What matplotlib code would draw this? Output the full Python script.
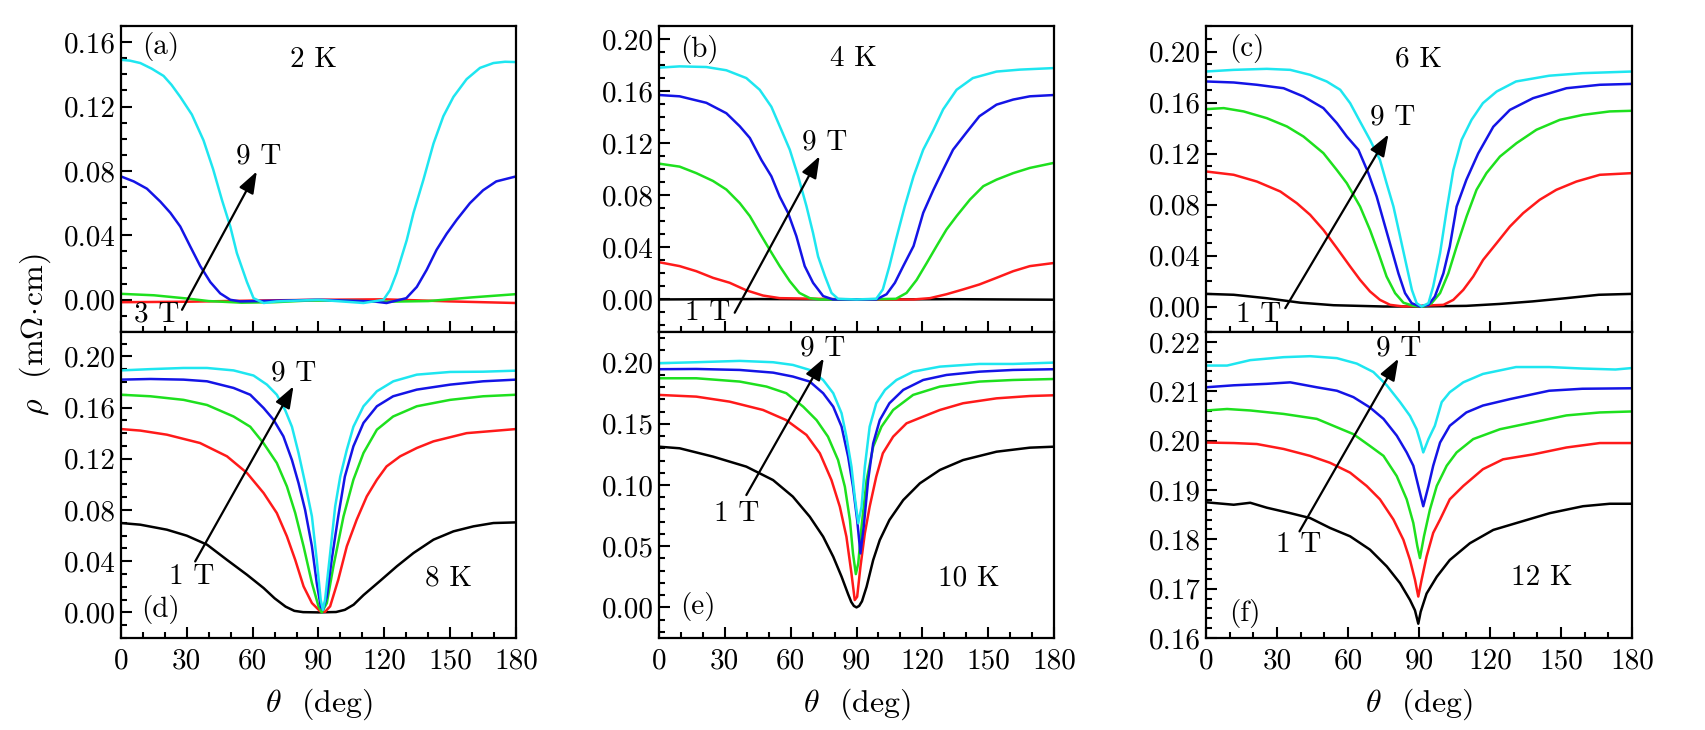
import matplotlib
matplotlib.use("Agg")
import matplotlib.pyplot as plt
from matplotlib.ticker import MultipleLocator, FixedLocator, FixedFormatter

plt.rcParams['font.family'] = ['cmr10', 'DejaVu Serif']
plt.rcParams['mathtext.fontset'] = 'cm'
plt.rcParams['axes.unicode_minus'] = False

# ---------------- data (theta in deg, rho in mOhm cm) ----------------
# panel (a) 2 K
A9_t = [0, 4, 8.8, 14, 19.4, 23, 27, 32.3, 37.6, 42, 46, 49.8, 52.8, 57.4, 60.4, 65, 71, 90, 110.5, 119.6, 122.6, 125.6, 130.2, 133.3, 137.8, 142.4, 146.9, 151.5, 157.5, 163.6, 169.7, 175, 180]
A9_r = [0.149, 0.1485, 0.147, 0.1435, 0.139, 0.1335, 0.126, 0.115, 0.099, 0.081, 0.062, 0.0455, 0.029, 0.011, 0.001, -0.002, -0.001, 0.0, -0.002, 0.0, 0.006, 0.0166, 0.037, 0.054, 0.0745, 0.097, 0.114, 0.126, 0.137, 0.144, 0.147, 0.1478, 0.1476]
A7_t = [0, 5.8, 11.8, 17.9, 22.5, 27, 31.6, 36.1, 40.7, 45.2, 49.8, 54.3, 90, 115, 121, 130, 134.8, 139.3, 143.8, 148.4, 153, 159, 165, 171, 180]
A7_r = [0.0766, 0.0735, 0.069, 0.061, 0.054, 0.0455, 0.033, 0.021, 0.011, 0.004, 0.0, -0.001, 0.0, -0.001, -0.002, 0.001, 0.008, 0.0186, 0.031, 0.041, 0.0497, 0.060, 0.068, 0.0735, 0.0766]
A5_t = [0, 15, 30, 40, 55, 70, 85, 100, 120, 140, 160, 180]
A5_r = [0.0037, 0.0028, 0.0008, -0.0008, -0.0018, -0.0015, -0.0005, -0.0005, -0.0012, -0.0008, 0.0015, 0.0035]
A3_t = [0, 30, 60, 90, 120, 150, 180]
A3_r = [-0.0015, -0.0012, -0.0005, 0.0, 0.0003, -0.001, -0.002]

# panel (b) 4 K
B9_t = [0, 9.4, 21.6, 30.7, 39.8, 45.9, 51.2, 55.8, 59.6, 63.4, 67.2, 70.2, 72.5, 75.6, 78.6, 81.6, 90, 99, 102, 105, 108, 112, 116, 120.4, 125, 129.5, 135.6, 143, 153.8, 164.4, 180]
B9_r = [0.178, 0.179, 0.1785, 0.176, 0.170, 0.161, 0.148, 0.130, 0.115, 0.0946, 0.0716, 0.051, 0.033, 0.018, 0.005, 0.0005, 0.0, 0.0005, 0.0077, 0.0256, 0.046, 0.0716, 0.0946, 0.115, 0.130, 0.146, 0.161, 0.170, 0.175, 0.1765, 0.1777]
B7_t = [0, 9.4, 21.6, 30.7, 36.8, 41.4, 46.7, 51.2, 55, 58.8, 62.6, 66.4, 70.2, 74.8, 79.3, 90, 99, 103.7, 107.5, 111.3, 116, 120.4, 125, 129.5, 134, 140, 146, 153.8, 161.4, 169, 180]
B7_r = [0.157, 0.156, 0.151, 0.143, 0.133, 0.124, 0.107, 0.0946, 0.079, 0.0665, 0.0486, 0.0256, 0.0128, 0.0026, 0.0, 0.0, 0.0, 0.004, 0.0128, 0.0256, 0.041, 0.0665, 0.084, 0.0997, 0.115, 0.128, 0.1407, 0.1496, 0.1535, 0.156, 0.157]
B5_t = [0, 9.4, 17, 24.6, 30.7, 36.8, 41.4, 45.9, 50.5, 55, 59.6, 64, 68.7, 73.3, 90, 108, 112.8, 117.4, 122, 126.5, 131, 135.6, 141.7, 147.8, 153.8, 161.4, 169, 180]
B5_r = [0.1043, 0.102, 0.097, 0.091, 0.0844, 0.074, 0.064, 0.051, 0.038, 0.0256, 0.014, 0.005, 0.001, 0.0, 0.0, 0.0005, 0.005, 0.015, 0.028, 0.041, 0.0537, 0.064, 0.0767, 0.087, 0.092, 0.097, 0.101, 0.1049]
B3_t = [0, 9.4, 17, 24.6, 32.2, 39.8, 47.4, 55, 90, 116, 123.5, 131, 138.6, 146, 153.8, 161.4, 169, 180]
B3_r = [0.0286, 0.0256, 0.0217, 0.0166, 0.0128, 0.007, 0.003, 0.001, 0.0, 0.0, 0.001, 0.004, 0.0077, 0.0115, 0.0166, 0.0217, 0.0256, 0.028]
B1_t = [0, 45, 90, 135, 180]
B1_r = [0.0, 0.0003, 0.0, 0.0002, -0.0002]

# panel (c) 6 K
C9_t = [0, 11.7, 25.7, 35.6, 44, 51, 56.7, 60.9, 65.1, 69.3, 73.5, 76.3, 79.2, 82, 84.8, 87, 89, 91.1, 94, 96, 98.9, 101.7, 104.5, 108, 112.2, 117, 122.8, 131, 145, 159, 180]
C9_r = [0.1843, 0.1856, 0.1864, 0.1856, 0.1817, 0.1765, 0.170, 0.1595, 0.145, 0.1307, 0.115, 0.0967, 0.0784, 0.055, 0.0314, 0.013, 0.0026, 0.0, 0.0026, 0.0157, 0.0418, 0.0758, 0.107, 0.1307, 0.1464, 0.1595, 0.1686, 0.1765, 0.181, 0.183, 0.1843]
C7_t = [0, 11.7, 21.5, 32.8, 41.2, 49.6, 55.3, 59.5, 64.4, 68.6, 72.1, 75.7, 78.5, 81.3, 84.1, 86.9, 90.4, 94, 96.7, 100.3, 103, 105.9, 110, 115, 121.4, 128.4, 138.2, 152.3, 166.4, 180]
C7_r = [0.1765, 0.1757, 0.1739, 0.1712, 0.1647, 0.1556, 0.1438, 0.1333, 0.1229, 0.1046, 0.0863, 0.0627, 0.0444, 0.026, 0.0105, 0.0026, 0.0, 0.0013, 0.0078, 0.026, 0.047, 0.0784, 0.0993, 0.120, 0.141, 0.1542, 0.1634, 0.1712, 0.1739, 0.1746]
C5_t = [0, 7.5, 15.9, 25.7, 34.2, 41.2, 49.6, 55.3, 59.5, 65.1, 69.3, 72.9, 76.3, 79.9, 83.4, 87.6, 91.8, 95.3, 98.9, 102.4, 105.9, 110.1, 114.3, 118.5, 124.2, 131.2, 139.6, 149.5, 159.3, 170.6, 180]
C5_r = [0.1548, 0.1556, 0.153, 0.1477, 0.1412, 0.1333, 0.1203, 0.107, 0.0967, 0.0784, 0.060, 0.0418, 0.0235, 0.0105, 0.003, 0.0005, 0.0, 0.0026, 0.0105, 0.026, 0.047, 0.0706, 0.0915, 0.1046, 0.1176, 0.1281, 0.1386, 0.1464, 0.1503, 0.153, 0.1535]
C3_t = [0, 11.7, 21.5, 31.4, 38.4, 44, 49.6, 55.3, 60.9, 65.1, 69.3, 73.5, 77.8, 83.4, 100.3, 104.5, 108.7, 112.9, 117.1, 122.8, 128.4, 134, 141, 148, 156.5, 166.4, 180]
C3_r = [0.1059, 0.1033, 0.098, 0.0902, 0.081, 0.0719, 0.0601, 0.0458, 0.0314, 0.0209, 0.0118, 0.0052, 0.0013, 0.0, 0.0013, 0.0052, 0.013, 0.0235, 0.0366, 0.0497, 0.0627, 0.0732, 0.0837, 0.0915, 0.098, 0.1033, 0.1046]
C1_t = [0, 11.7, 25.7, 39.8, 53.9, 75, 89, 110, 124, 138, 152, 166, 180]
C1_r = [0.0099, 0.0092, 0.0065, 0.003, 0.001, 0.0, 0.0, 0.0005, 0.002, 0.004, 0.0065, 0.0092, 0.0099]

# panel (d) 8 K
D9_t = [0, 13.4, 28.5, 39.2, 51.3, 60.4, 66.5, 71, 74.8, 77.9, 80.9, 83.9, 87, 89.2, 91, 92, 93, 95.3, 97.6, 99.9, 102.9, 105.9, 110.5, 116.6, 124.1, 134.8, 150, 165, 180]
D9_r = [0.189, 0.190, 0.1909, 0.1909, 0.189, 0.185, 0.1779, 0.170, 0.158, 0.145, 0.1245, 0.101, 0.075, 0.041, 0.0099, 0.002, 0.0099, 0.046, 0.0828, 0.106, 0.127, 0.145, 0.161, 0.1727, 0.1805, 0.1857, 0.1878, 0.188, 0.1888]
D7_t = [0, 13.4, 28.5, 39.2, 51.3, 58.9, 65, 69.5, 74, 77.9, 80.9, 83.9, 87, 89.2, 91, 92, 93.8, 96, 99, 102, 105.9, 110.5, 116.6, 124, 134.8, 150, 165, 180]
D7_r = [0.1818, 0.1823, 0.1818, 0.1805, 0.1753, 0.170, 0.1596, 0.1505, 0.1375, 0.119, 0.101, 0.080, 0.0516, 0.023, 0.0047, 0.002, 0.0125, 0.041, 0.075, 0.106, 0.1297, 0.148, 0.161, 0.1688, 0.174, 0.1779, 0.1805, 0.1818]
D5_t = [0, 13.4, 28.5, 39.2, 51.3, 58.9, 65, 71, 75.6, 79.4, 83.2, 87, 90, 91.5, 93.8, 96.8, 101.4, 105.9, 110.5, 116.6, 124, 134.8, 150, 165, 180]
D5_r = [0.170, 0.1688, 0.166, 0.162, 0.153, 0.145, 0.132, 0.1167, 0.0984, 0.0776, 0.0516, 0.023, 0.0047, 0.0, 0.0073, 0.036, 0.075, 0.1036, 0.1245, 0.1427, 0.153, 0.161, 0.166, 0.1688, 0.170]
D3_t = [0, 8.8, 20.9, 36, 48.3, 57.4, 65, 71, 75.6, 79.4, 83.2, 87, 90.8, 93, 95.3, 99, 102.9, 107.4, 112, 116.6, 121, 127.2, 134.8, 142.4, 157.5, 180]
D3_r = [0.1432, 0.142, 0.1388, 0.1323, 0.1219, 0.1089, 0.0932, 0.0776, 0.0594, 0.041, 0.0203, 0.0073, 0.0008, 0.0005, 0.0047, 0.0255, 0.0516, 0.0724, 0.0906, 0.1036, 0.114, 0.1219, 0.1284, 0.1336, 0.140, 0.1432]
D1_t = [0, 8.8, 20.9, 30, 39.2, 48.3, 57.4, 65, 70, 75, 79, 83, 90, 98, 102, 106, 110.5, 118, 125.7, 133.3, 142.4, 151.5, 160.6, 169.7, 180]
D1_r = [0.0698, 0.0685, 0.0646, 0.0599, 0.0529, 0.041, 0.0294, 0.019, 0.011, 0.0045, 0.0012, 0.0002, 0.0, 0.0003, 0.002, 0.006, 0.0135, 0.0245, 0.036, 0.0464, 0.0568, 0.0633, 0.0672, 0.0698, 0.0703]

# panel (e) 10 K
E9_t = [0, 17, 36.8, 52, 61, 68.7, 74.8, 79.4, 83.2, 85.4, 87.7, 89.2, 90.8, 92.3, 93.8, 96, 99, 103, 108.2, 115.8, 128, 146, 161.4, 180]
E9_r = [0.1995, 0.2003, 0.2014, 0.2003, 0.1981, 0.194, 0.1858, 0.175, 0.1586, 0.1395, 0.115, 0.0905, 0.0687, 0.0823, 0.115, 0.1477, 0.1668, 0.1777, 0.1858, 0.1926, 0.1967, 0.1989, 0.1989, 0.2]
E7_t = [0, 17, 36.8, 52, 61, 68.7, 74.8, 79.4, 83.2, 86.2, 88.4, 90.3, 91.8, 93.3, 95.3, 97.6, 100.6, 105, 111.3, 120.4, 131, 146, 161.4, 180]
E7_r = [0.1946, 0.1948, 0.194, 0.1918, 0.1886, 0.1845, 0.175, 0.164, 0.1477, 0.123, 0.0986, 0.0714, 0.0441, 0.066, 0.104, 0.134, 0.153, 0.1668, 0.1777, 0.1858, 0.1899, 0.1926, 0.194, 0.1946]
E5_t = [0, 17, 36.8, 49, 58, 65.7, 71.8, 77, 81.6, 84.7, 87, 88.4, 89.7, 90.8, 92.3, 94.6, 97.6, 101.4, 106.7, 115.8, 128, 146, 161.4, 180]
E5_r = [0.1872, 0.1872, 0.1845, 0.1804, 0.175, 0.164, 0.153, 0.1395, 0.1204, 0.0986, 0.0714, 0.0441, 0.0272, 0.036, 0.066, 0.104, 0.1313, 0.1477, 0.1613, 0.1736, 0.1804, 0.1845, 0.1858, 0.1866]
E3_t = [0, 17, 32.2, 47.4, 58, 67.2, 73.3, 78.6, 82.4, 85.4, 87.7, 89.2, 90.3, 91.8, 93.8, 96, 99, 102, 106.7, 112.8, 120.4, 128, 138.6, 153.8, 169, 180]
E3_r = [0.1736, 0.1722, 0.1681, 0.1613, 0.153, 0.1409, 0.1259, 0.104, 0.0823, 0.0578, 0.0278, 0.006, 0.0087, 0.0332, 0.0605, 0.0823, 0.1068, 0.1259, 0.1395, 0.1504, 0.1559, 0.1613, 0.1668, 0.1708, 0.1727, 0.1733]
E1_t = [0, 9.4, 24.6, 39.8, 52, 61, 68.7, 74.8, 79.4, 83.2, 86.2, 87.6, 88.8, 90, 91.2, 92.5, 94.6, 97.6, 100.6, 105, 111.3, 118.9, 128, 138.6, 153.8, 169, 180]
E1_r = [0.1313, 0.13, 0.1232, 0.115, 0.104, 0.0905, 0.0741, 0.0578, 0.0414, 0.0251, 0.0107, 0.0045, 0.0012, 0.0, 0.0012, 0.005, 0.0169, 0.0387, 0.055, 0.0714, 0.0877, 0.1014, 0.1123, 0.1204, 0.1272, 0.1305, 0.1313]

# panel (f) 12 K
F9_t = [0, 8.9, 18.7, 32.8, 44, 55.3, 63.7, 70.7, 76.4, 82, 86.2, 89, 90.7, 91.8, 94, 96.7, 99.6, 103, 108.7, 117, 131, 145, 159, 173, 180]
F9_r = [0.2152, 0.2152, 0.2163, 0.2169, 0.2171, 0.2167, 0.2156, 0.2139, 0.2112, 0.2078, 0.2050, 0.2023, 0.1996, 0.1976, 0.2003, 0.2030, 0.2078, 0.2098, 0.2118, 0.2135, 0.2149, 0.2149, 0.2146, 0.2144, 0.2147]
F7_t = [0, 11.7, 25.7, 35.6, 46.8, 55.3, 62.3, 69.3, 75, 80.6, 84.8, 87.6, 89.7, 91.8, 94, 96, 98.9, 103, 110, 117, 128.4, 145, 159, 180]
F7_r = [0.2108, 0.2112, 0.2115, 0.2118, 0.2108, 0.2101, 0.2088, 0.2067, 0.2044, 0.2010, 0.1976, 0.1949, 0.1908, 0.1867, 0.1908, 0.1949, 0.1996, 0.2030, 0.2057, 0.2071, 0.2084, 0.2101, 0.2105, 0.2106]
F5_t = [0, 8.9, 18.7, 32.8, 46.8, 55.3, 62.3, 69.3, 75, 80.6, 84.8, 87.6, 89.3, 90.4, 92.1, 94.6, 97.5, 101.7, 105.9, 112.9, 124.2, 138.2, 152.3, 166.4, 180]
F5_r = [0.2061, 0.2064, 0.2061, 0.2054, 0.2044, 0.2027, 0.2013, 0.1989, 0.1969, 0.1928, 0.1881, 0.1833, 0.1786, 0.1762, 0.1806, 0.1860, 0.1908, 0.1949, 0.1976, 0.2003, 0.2023, 0.2037, 0.2051, 0.2057, 0.2059]
F3_t = [0, 11.7, 21.5, 32.8, 44, 52.4, 60.9, 67.9, 73.5, 79.2, 83.4, 86.2, 88.3, 89.7, 91.1, 93.2, 96, 98.9, 103, 108.7, 117, 125.5, 138.2, 152.3, 166.4, 180]
F3_r = [0.1996, 0.1995, 0.1993, 0.1983, 0.1969, 0.1955, 0.1935, 0.1908, 0.1881, 0.1840, 0.1799, 0.1758, 0.1718, 0.1684, 0.1718, 0.1765, 0.1813, 0.1840, 0.1881, 0.1908, 0.1942, 0.1962, 0.1972, 0.1986, 0.1995, 0.1995]
F1_t = [0, 11.7, 18.7, 25.7, 35.6, 44, 52.4, 60.9, 69.3, 76.4, 82, 86.2, 88.3, 89.7, 90.7, 93.2, 97.5, 103, 111.5, 121.4, 131.2, 145.3, 159.3, 170.6, 180]
F1_r = [0.1875, 0.1870, 0.1874, 0.1864, 0.1853, 0.1843, 0.1823, 0.1806, 0.1779, 0.1745, 0.1711, 0.1677, 0.1656, 0.1629, 0.1653, 0.1690, 0.1724, 0.1758, 0.1792, 0.1819, 0.1833, 0.1853, 0.1867, 0.1872, 0.1872]

# ticks / labels
x_ticks = [0, 30, 60, 90, 120, 150, 180]
x_ticklabels = ['0', '30', '60', '90', '120', '150', '180']
temps = ['2 K', '4 K', '6 K', '8 K', '10 K', '12 K']
panel_tags = ['(a)', '(b)', '(c)', '(d)', '(e)', '(f)']
low_field = ['3 T', '1 T', '1 T', '1 T', '1 T', '1 T']
high_field = '9 T'

COL = {1: 'black', 3: '#ff1a1a', 5: '#1ee01e', 7: '#1414e6', 9: '#1ee6f0'}

fig = plt.figure(figsize=(17.06, 7.30), dpi=100)
W, H = 1706.0, 730.0
def pos(l, r, t, b):
    return [l / W, 1 - b / H, (r - l) / W, (b - t) / H]

ax_a = fig.add_axes(pos(121, 516, 26, 332))
ax_b = fig.add_axes(pos(659, 1054, 26, 332))
ax_c = fig.add_axes(pos(1206, 1632, 26, 332))
ax_d = fig.add_axes(pos(121, 516, 332, 638))
ax_e = fig.add_axes(pos(659, 1054, 332, 638))
ax_f = fig.add_axes(pos(1206, 1632, 332, 638))

panels = [
    (ax_a, [(3, A3_t, A3_r), (5, A5_t, A5_r), (7, A7_t, A7_r), (9, A9_t, A9_r)],
     (-0.02, 0.17), [0, 0.04, 0.08, 0.12, 0.16], ['0.00', '0.04', '0.08', '0.12', '0.16'], 0.01),
    (ax_b, [(1, B1_t, B1_r), (3, B3_t, B3_r), (5, B5_t, B5_r), (7, B7_t, B7_r), (9, B9_t, B9_r)],
     (-0.025, 0.21), [0, 0.04, 0.08, 0.12, 0.16, 0.20], ['0.00', '0.04', '0.08', '0.12', '0.16', '0.20'], 0.01),
    (ax_c, [(1, C1_t, C1_r), (3, C3_t, C3_r), (5, C5_t, C5_r), (7, C7_t, C7_r), (9, C9_t, C9_r)],
     (-0.02, 0.22), [0, 0.04, 0.08, 0.12, 0.16, 0.20], ['0.00', '0.04', '0.08', '0.12', '0.16', '0.20'], 0.01),
    (ax_d, [(1, D1_t, D1_r), (3, D3_t, D3_r), (5, D5_t, D5_r), (7, D7_t, D7_r), (9, D9_t, D9_r)],
     (-0.02, 0.219), [0, 0.04, 0.08, 0.12, 0.16, 0.20], ['0.00', '0.04', '0.08', '0.12', '0.16', '0.20'], 0.01),
    (ax_e, [(1, E1_t, E1_r), (3, E3_t, E3_r), (5, E5_t, E5_r), (7, E7_t, E7_r), (9, E9_t, E9_r)],
     (-0.025, 0.225), [0, 0.05, 0.10, 0.15, 0.20], ['0.00', '0.05', '0.10', '0.15', '0.20'], 0.01),
    (ax_f, [(1, F1_t, F1_r), (3, F3_t, F3_r), (5, F5_t, F5_r), (7, F7_t, F7_r), (9, F9_t, F9_r)],
     (0.16, 0.222), [0.16, 0.17, 0.18, 0.19, 0.20, 0.21, 0.22], ['0.16', '0.17', '0.18', '0.19', '0.20', '0.21', '0.22'], 0.002),
]

FS = 21
FSL = 23
for i, (ax, curves, ylim, yt, ytl, ymin) in enumerate(panels):
    for field, t, r in curves:
        ax.plot(t, r, color=COL[field], lw=1.8)
    ax.set_xlim(0, 180)
    ax.set_ylim(*ylim)
    ax.xaxis.set_major_locator(FixedLocator(x_ticks))
    ax.xaxis.set_minor_locator(MultipleLocator(10))
    ax.yaxis.set_major_locator(FixedLocator(yt))
    ax.yaxis.set_major_formatter(FixedFormatter(ytl))
    ax.yaxis.set_minor_locator(MultipleLocator(ymin))
    ax.tick_params(which='both', direction='in', top=False, right=False, width=1.5, labelsize=FS)
    ax.tick_params(which='major', length=8)
    ax.tick_params(which='minor', length=4.5)
    ax.tick_params(axis='y', pad=4)
    ax.tick_params(axis='x', pad=7)
    for s in ax.spines.values():
        s.set_linewidth(1.6)
    if i < 3:
        ax.set_xticklabels([])
    else:
        ax.xaxis.set_major_formatter(FixedFormatter(x_ticklabels))
        ax.set_xlabel(r'$\theta$  (deg)', fontsize=FSL, labelpad=9)

# annotations: (tag xy, temp xy, low label xy, arrow tail, arrow head, 9T label xy)
ann = [
    ((17.9, 0.157), (87.7, 0.149), (16.4, -0.0093), (27.8, -0.0062), (61.9, 0.0797), (62.7, 0.089)),
    ((18.5, 0.192), (88.5, 0.1847), (22.3, -0.0102), (34.5, -0.0102), (73.2, 0.110), (75.6, 0.121)),
    ((17.3, 0.2026), (89.7, 0.194), (22.2, -0.0065), (33.5, -0.0013), (77.1, 0.135), (78.9, 0.148)),
    ((17.9, 0.002), (149.2, 0.0268), (32.3, 0.0276), (33.8, 0.0398), (78.6, 0.1766), (78.6, 0.187)),
    ((17.8, 0.0005), (141.0, 0.0237), (35.3, 0.0768), (39.8, 0.0918), (75.1, 0.2035), (74.8, 0.2117)),
    ((16.6, 0.165), (141.8, 0.1721), (39.1, 0.1789), (39.5, 0.1816), (81.3, 0.2166), (81.3, 0.2186)),
]
for i, (ax, a) in enumerate(zip([ax_a, ax_b, ax_c, ax_d, ax_e, ax_f], ann)):
    tag, tp, lo, tail, head, hi = a
    ax.text(tag[0], tag[1], panel_tags[i], fontsize=FS, ha='center', va='center')
    ax.text(tp[0], tp[1], temps[i], fontsize=FS, ha='center', va='center')
    ax.text(lo[0], lo[1], low_field[i], fontsize=FS, ha='center', va='center')
    ax.text(hi[0], hi[1], high_field, fontsize=FS, ha='center', va='center')
    ax.annotate('', xy=head, xytext=tail,
                arrowprops=dict(arrowstyle='-|>,head_length=0.6,head_width=0.22',
                                color='black', lw=1.6, mutation_scale=22,
                                shrinkA=0, shrinkB=0))

fig.text(35 / W, 1 - 335 / H, r'$\rho$  (m$\Omega\!\cdot\!$cm)', rotation=90,
         ha='center', va='center', fontsize=FSL)

fig.savefig('out.png', dpi=100)
